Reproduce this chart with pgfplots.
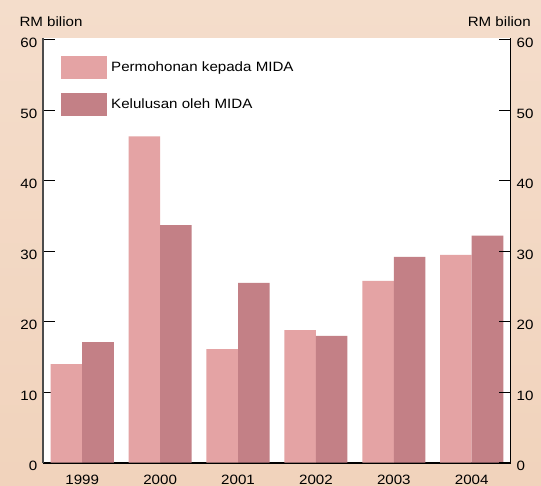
\documentclass[border=0pt]{standalone}
\usepackage{fontspec}
\setmainfont{Liberation Sans}[FakeStretch=1.12]
\usepackage{pgfplots}
\pgfplotsset{compat=1.18}
\definecolor{bgtop}{HTML}{F4DDCB}
\definecolor{bgbot}{HTML}{F1D3BC}
\definecolor{barA}{HTML}{E4A3A4}
\definecolor{barB}{HTML}{C38086}
\begin{document}
\begin{tikzpicture}[font=\fontsize{13.5bp}{16bp}\selectfont]
\useasboundingbox (0,0) rectangle (541bp,486bp);
\shade[top color=bgtop,bottom color=bgbot] (0,0) rectangle (541bp,486bp);
\begin{axis}[
  at={(43.3bp,23.3bp)}, anchor=south west,
  width=467.4bp, height=425bp, scale only axis,
  xmin=-0.5, xmax=5.5, ymin=0, ymax=60.3,
  axis background/.style={fill=white},
  axis x line*=bottom, axis y line*=left,
  x axis line style={line width=1.6bp, black},
  y axis line style={line width=1.6bp, black!70},
  xtick={0,1,2,3,4,5}, xticklabels={1999,2000,2001,2002,2003,2004},
  x tick style={draw=none},
  ytick={0,10,20,30,40,50,60},
  y tick style={black, line width=1.2bp},
  major tick length=12bp,
  tick align=inside,
  /pgf/number format/assume math mode=true,
  ticklabel style={font=\fontsize{13.5bp}{16bp}\selectfont},
  yticklabel style={xshift=-2.5bp, yshift=-3.5bp},
  xticklabel style={yshift=-8.4bp},
  legend style={at={(0.0379,0.957)}, anchor=north west, draw=none, fill=none,
    inner sep=0pt, row sep=14bp, column sep=4bp, cells={anchor=west},
    nodes={inner sep=0pt}, font=\fontsize{13.5bp}{16bp}\selectfont},
]
\addplot[ybar, bar width=0.405, bar shift=-0.2025, fill=barA, draw=none,
  legend image code/.code={\fill[barA] (0bp,-11.5bp) rectangle (46bp,11.5bp);}]
  coordinates {(0,14.0) (1,46.3) (2,16.1) (3,18.8) (4,25.8) (5,29.5)};
\addlegendentry{Permohonan kepada MIDA}
\addplot[ybar, bar width=0.405, bar shift=0.2025, fill=barB, draw=none,
  legend image code/.code={\fill[barB] (0bp,-11.5bp) rectangle (46bp,11.5bp);}]
  coordinates {(0,17.1) (1,33.7) (2,25.5) (3,18.0) (4,29.2) (5,32.2)};
\addlegendentry{Kelulusan oleh MIDA}
\end{axis}
\begin{axis}[
  at={(43.3bp,23.3bp)}, anchor=south west,
  width=467.4bp, height=425bp, scale only axis,
  xmin=-0.5, xmax=5.5, ymin=0, ymax=60.3,
  axis x line=none, axis y line*=right,
  y axis line style={line width=1.4bp, black},
  ytick={0,10,20,30,40,50,60},
  y tick style={black, line width=1.2bp},
  major tick length=12bp,
  tick align=inside,
  /pgf/number format/assume math mode=true,
  ticklabel style={font=\fontsize{13.5bp}{16bp}\selectfont},
  yticklabel style={xshift=2.5bp, yshift=-3.5bp},
]
\end{axis}
\node[anchor=base west, inner sep=0pt] at (19.3bp,459.7bp) {RM bilion};
\node[anchor=base east, inner sep=0pt] at (531bp,459.7bp) {RM bilion};
\end{tikzpicture}
\end{document}
